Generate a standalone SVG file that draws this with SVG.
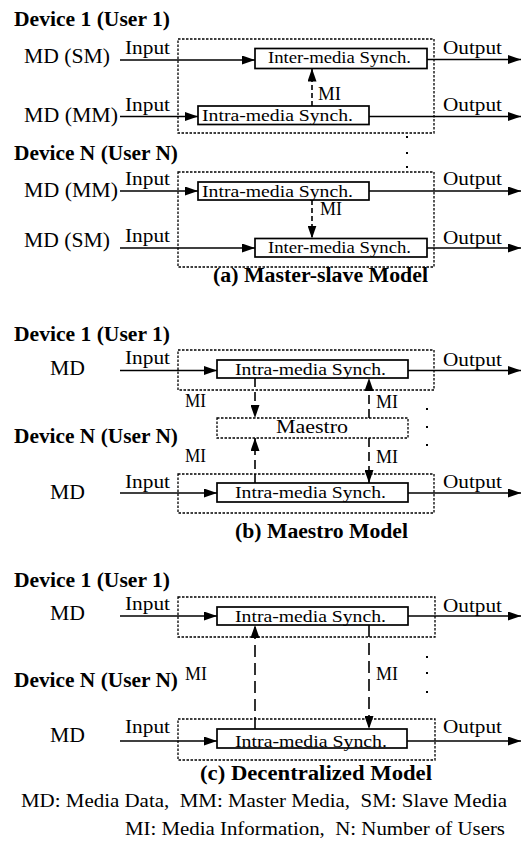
<svg xmlns="http://www.w3.org/2000/svg" width="522" height="850" viewBox="0 0 522 850" font-family="'Liberation Serif', 'Times New Roman', serif">
<style>
text{fill:#000}
.t{font-weight:bold;font-size:20px}
.md{font-size:20px}
.lb{font-size:18px}
.bx{font-size:17px}
.fn{font-size:18px}
.solid{fill:#fff;stroke:#000;stroke-width:1.7}
.dot{fill:none;stroke:#000;stroke-width:1.3;stroke-dasharray:2.5,1.5}
.ln{fill:none;stroke:#000;stroke-width:1.6}
.da{stroke-dasharray:5,3}
.db{stroke-dasharray:9,5}
.dc{stroke-dasharray:12,6}
</style>
<defs>
<marker id="ah" markerWidth="13" markerHeight="9" refX="13" refY="4.5" orient="auto" markerUnits="userSpaceOnUse"><path d="M0,0 L13,4.5 L0,9 z" fill="#000"/></marker>
</defs>

<text class="t" x="14" y="26" textLength="156" lengthAdjust="spacingAndGlyphs">Device 1 (User 1)</text>
<text class="md" x="24" y="63" textLength="86" lengthAdjust="spacingAndGlyphs">MD (SM)</text>
<text class="md" x="24" y="122" textLength="94" lengthAdjust="spacingAndGlyphs">MD (MM)</text>
<g id="a-dev1"><rect class="dot" x="178" y="39" width="256" height="94"/></g>
<g id="a-inter1"><rect class="solid" x="255" y="48.5" width="172" height="20"/><text class="bx" x="268" y="63.3" textLength="143" lengthAdjust="spacingAndGlyphs">Inter-media Synch.</text></g>
<g id="a-intra1"><rect class="solid" x="198" y="106" width="171" height="18.5"/><text class="bx" x="202" y="120.7" textLength="151" lengthAdjust="spacingAndGlyphs">Intra-media Synch.</text></g>

<text class="t" x="14" y="160" textLength="164" lengthAdjust="spacingAndGlyphs">Device N (User N)</text>
<text class="md" x="24" y="197" textLength="94" lengthAdjust="spacingAndGlyphs">MD (MM)</text>
<text class="md" x="24" y="247" textLength="86" lengthAdjust="spacingAndGlyphs">MD (SM)</text>
<g id="a-devN"><rect class="dot" x="178" y="172" width="256" height="95"/></g>
<g id="a-intraN"><rect class="solid" x="198" y="182" width="171" height="18"/><text class="bx" x="202" y="196.7" textLength="151" lengthAdjust="spacingAndGlyphs">Intra-media Synch.</text></g>
<g id="a-interN"><rect class="solid" x="255" y="238.5" width="172" height="18.5"/><text class="bx" x="268" y="253.3" textLength="143" lengthAdjust="spacingAndGlyphs">Inter-media Synch.</text></g>
<g id="a-dots"><rect x="406" y="136" width="2" height="2"/><rect x="406" y="152" width="2" height="2"/><rect x="406" y="166" width="2" height="2"/></g>
<text class="t" x="213" y="282" textLength="215" lengthAdjust="spacingAndGlyphs">(a) Master-slave Model</text>

<text class="t" x="14" y="341" textLength="156" lengthAdjust="spacingAndGlyphs">Device 1 (User 1)</text>
<text class="md" x="50" y="375" textLength="35" lengthAdjust="spacingAndGlyphs">MD</text>
<g id="b-dev1"><rect class="dot" x="178" y="350" width="256" height="40"/></g>
<g id="b-intra1"><rect class="solid" x="217" y="360" width="191" height="18"/><text class="bx" x="235" y="375" textLength="151" lengthAdjust="spacingAndGlyphs">Intra-media Synch.</text></g>
<g id="b-maestro"><rect class="dot" x="217" y="418" width="191" height="20"/><text class="lb" x="276" y="433" textLength="72" lengthAdjust="spacingAndGlyphs">Maestro</text></g>
<text class="t" x="14" y="443" textLength="164" lengthAdjust="spacingAndGlyphs">Device N (User N)</text>
<text class="md" x="50" y="499" textLength="35" lengthAdjust="spacingAndGlyphs">MD</text>
<g id="b-devN"><rect class="dot" x="178" y="474" width="256" height="39"/></g>
<g id="b-intraN"><rect class="solid" x="217" y="483" width="191" height="19"/><text class="bx" x="235" y="498" textLength="151" lengthAdjust="spacingAndGlyphs">Intra-media Synch.</text></g>
<g id="b-dots"><rect x="426" y="408" width="2" height="2"/><rect x="426" y="426" width="2" height="2"/><rect x="426" y="444" width="2" height="2"/></g>
<text class="t" x="235" y="538" textLength="173" lengthAdjust="spacingAndGlyphs">(b) Maestro Model</text>

<text class="t" x="14" y="587" textLength="156" lengthAdjust="spacingAndGlyphs">Device 1 (User 1)</text>
<text class="md" x="50" y="620" textLength="35" lengthAdjust="spacingAndGlyphs">MD</text>
<g id="c-dev1"><rect class="dot" x="178" y="597" width="257" height="40"/></g>
<g id="c-intra1"><rect class="solid" x="217" y="607" width="191" height="18"/><text class="bx" x="235" y="621.7" textLength="151" lengthAdjust="spacingAndGlyphs">Intra-media Synch.</text></g>
<text class="t" x="14" y="687" textLength="164" lengthAdjust="spacingAndGlyphs">Device N (User N)</text>
<text class="md" x="50" y="742" textLength="35" lengthAdjust="spacingAndGlyphs">MD</text>
<g id="c-devN"><rect class="dot" x="178" y="719" width="257" height="41"/></g>
<g id="c-intraN"><rect class="solid" x="217" y="729" width="190" height="19"/><text class="bx" x="235" y="746.7" textLength="152" lengthAdjust="spacingAndGlyphs">Intra-media Synch.</text></g>
<g id="c-dots"><rect x="426" y="656" width="2" height="2"/><rect x="426" y="672" width="2" height="2"/><rect x="426" y="691" width="2" height="2"/></g>
<text class="t" x="200" y="780" textLength="232" lengthAdjust="spacingAndGlyphs">(c) Decentralized Model</text>

<text class="fn" x="21" y="807" textLength="486" lengthAdjust="spacingAndGlyphs">MD: Media Data,&#160; MM: Master Media,&#160; SM: Slave Media</text>
<text class="fn" x="125" y="835" textLength="380" lengthAdjust="spacingAndGlyphs">MI: Media Information,&#160; N: Number of Users</text>

<g id="connectors">
<line class="ln" x1="120" y1="60" x2="255" y2="60" marker-end="url(#ah)"/>
<line class="ln" x1="427" y1="59.5" x2="521" y2="59.5" marker-end="url(#ah)"/>
<line class="ln" x1="120" y1="116.5" x2="198" y2="116.5" marker-end="url(#ah)"/>
<line class="ln" x1="369" y1="116.5" x2="521" y2="116.5" marker-end="url(#ah)"/>
<line class="ln da" x1="312" y1="106" x2="312" y2="68.5" marker-end="url(#ah)"/>
<line class="ln" x1="120" y1="191" x2="198" y2="191" marker-end="url(#ah)"/>
<line class="ln" x1="369" y1="191" x2="521" y2="191" marker-end="url(#ah)"/>
<line class="ln" x1="120" y1="248" x2="255" y2="248" marker-end="url(#ah)"/>
<line class="ln" x1="427" y1="248" x2="521" y2="248" marker-end="url(#ah)"/>
<line class="ln da" x1="312" y1="200" x2="312" y2="238.5" marker-end="url(#ah)"/>
<line class="ln" x1="120" y1="370.5" x2="217" y2="370.5" marker-end="url(#ah)"/>
<line class="ln" x1="408" y1="370.5" x2="521" y2="370.5" marker-end="url(#ah)"/>
<line class="ln db" x1="255" y1="378" x2="255" y2="418" marker-end="url(#ah)"/>
<line class="ln db" x1="369" y1="418" x2="369" y2="378" marker-end="url(#ah)"/>
<line class="ln db" x1="255" y1="483" x2="255" y2="438" marker-end="url(#ah)"/>
<line class="ln db" x1="369" y1="438" x2="369" y2="483" marker-end="url(#ah)"/>
<line class="ln" x1="120" y1="493" x2="217" y2="493" marker-end="url(#ah)"/>
<line class="ln" x1="408" y1="493" x2="521" y2="493" marker-end="url(#ah)"/>
<line class="ln" x1="120" y1="616" x2="217" y2="616" marker-end="url(#ah)"/>
<line class="ln" x1="408" y1="616" x2="521" y2="616" marker-end="url(#ah)"/>
<line class="ln dc" x1="255" y1="729" x2="255" y2="625" marker-end="url(#ah)"/>
<line class="ln dc" x1="369" y1="625" x2="369" y2="729" marker-end="url(#ah)"/>
<line class="ln" x1="120" y1="741" x2="217" y2="741" marker-end="url(#ah)"/>
<line class="ln" x1="407" y1="741" x2="521" y2="741" marker-end="url(#ah)"/>
<g class="lb">
<text x="125" y="54" textLength="45" lengthAdjust="spacingAndGlyphs">Input</text>
<text x="125" y="111" textLength="45" lengthAdjust="spacingAndGlyphs">Input</text>
<text x="125" y="185" textLength="45" lengthAdjust="spacingAndGlyphs">Input</text>
<text x="125" y="242" textLength="45" lengthAdjust="spacingAndGlyphs">Input</text>
<text x="125" y="364" textLength="45" lengthAdjust="spacingAndGlyphs">Input</text>
<text x="125" y="488" textLength="45" lengthAdjust="spacingAndGlyphs">Input</text>
<text x="125" y="610" textLength="45" lengthAdjust="spacingAndGlyphs">Input</text>
<text x="125" y="733" textLength="45" lengthAdjust="spacingAndGlyphs">Input</text>
<text x="443" y="54" textLength="59" lengthAdjust="spacingAndGlyphs">Output</text>
<text x="443" y="111" textLength="59" lengthAdjust="spacingAndGlyphs">Output</text>
<text x="443" y="185" textLength="59" lengthAdjust="spacingAndGlyphs">Output</text>
<text x="443" y="244" textLength="59" lengthAdjust="spacingAndGlyphs">Output</text>
<text x="443" y="366" textLength="59" lengthAdjust="spacingAndGlyphs">Output</text>
<text x="443" y="488" textLength="59" lengthAdjust="spacingAndGlyphs">Output</text>
<text x="443" y="612" textLength="59" lengthAdjust="spacingAndGlyphs">Output</text>
<text x="443" y="733" textLength="59" lengthAdjust="spacingAndGlyphs">Output</text>
<text x="318" y="100" textLength="23" lengthAdjust="spacingAndGlyphs">MI</text>
<text x="320" y="215" textLength="22" lengthAdjust="spacingAndGlyphs">MI</text>
<text x="185" y="407" textLength="21" lengthAdjust="spacingAndGlyphs">MI</text>
<text x="376" y="408" textLength="22" lengthAdjust="spacingAndGlyphs">MI</text>
<text x="185" y="462" textLength="21" lengthAdjust="spacingAndGlyphs">MI</text>
<text x="376" y="463" textLength="22" lengthAdjust="spacingAndGlyphs">MI</text>
<text x="185" y="680" textLength="22" lengthAdjust="spacingAndGlyphs">MI</text>
<text x="376" y="680" textLength="22" lengthAdjust="spacingAndGlyphs">MI</text>
</g>
</g>
</svg>
